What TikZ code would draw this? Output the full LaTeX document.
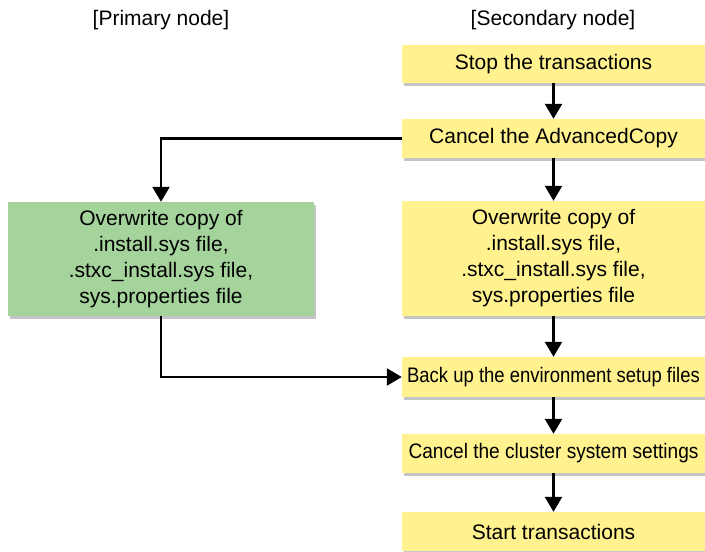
\documentclass[tikz,border=0pt]{standalone}
\usepackage{fontspec}
\setmainfont{Liberation Sans}
\usetikzlibrary{arrows.meta,shadows}
\definecolor{boxyellow}{HTML}{FFF28F}
\definecolor{boxgreen}{HTML}{A5D39C}
\begin{document}
\begin{tikzpicture}[x=1pt,y=-1pt,
  every node/.style={font=\fontsize{21}{26}\selectfont, inner sep=0pt},
  ybox/.style={fill=boxyellow, minimum width=303pt, align=center,
    drop shadow={shadow xshift=2pt, shadow yshift=-3pt, fill=black!45, opacity=.5}},
  gbox/.style={fill=boxgreen, minimum width=306pt, minimum height=114pt, align=center,
    drop shadow={shadow xshift=2pt, shadow yshift=-3pt, fill=black!45, opacity=.5}},
  flow/.style={line width=2.5pt, -{Triangle[width=17pt,length=15pt]}},
  header/.style={}]
\useasboundingbox (0,0) rectangle (705,552);
\node[header] (hp) at (161,20) {[Primary node]};
\node[header] (hs) at (553,20) {[Secondary node]};
\node[ybox, minimum height=38pt] (b1) at (553.5,64) {Stop the transactions};
\node[ybox, minimum height=39pt] (b2) at (553.5,138.5) {Cancel the AdvancedCopy};
\node[ybox, minimum height=115pt] (b3) at (553.5,258.5) {Overwrite copy of\\.install.sys file,\\.stxc\_install.sys file,\\sys.properties file};
\node[ybox, minimum height=40pt] (b4) at (553.5,377) {\scalebox{0.88}[1]{Back up the environment setup files}};
\node[ybox, minimum height=39pt] (b5) at (553.5,453.5) {\scalebox{0.91}[1]{Cancel the cluster system settings}};
\node[ybox, minimum height=39pt] (b6) at (553.5,531.5) {Start transactions};
\node[gbox] (g) at (161,259) {Overwrite copy of\\.install.sys file,\\.stxc\_install.sys file,\\sys.properties file};
\draw[flow] (b1) -- (b2);
\draw[flow] (b2) -- (b3);
\draw[flow] (b3) -- (b4);
\draw[flow] (b4) -- (b5);
\draw[flow] (b5) -- (b6);
\draw[flow] (b2.west) -| (g.north);
\draw[flow] (g.south) |- (b4.west);
\end{tikzpicture}
\end{document}
